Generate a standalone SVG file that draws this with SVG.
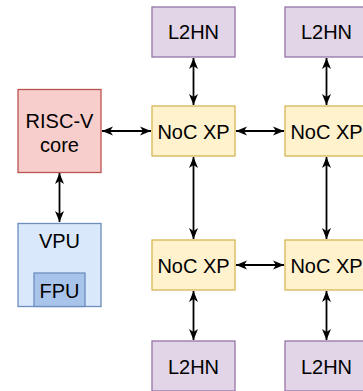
<svg xmlns="http://www.w3.org/2000/svg" width="363" height="391" viewBox="0 0 363 391">
<defs>
<marker id="ah" viewBox="0 0 11 10" refX="11" refY="5" markerWidth="11" markerHeight="10" markerUnits="userSpaceOnUse" orient="auto-start-reverse">
<path d="M11,5 L0,0.5 L3,5 L0,9.5 Z" fill="#000"/>
</marker>
<style>
text{font-family:"Liberation Sans",Arial,sans-serif;font-size:20px;fill:#000;text-anchor:middle}
.l2{fill:#e1d5e7;stroke:#9673a6;stroke-width:1.3}
.xp{fill:#fff2cc;stroke:#d6b656;stroke-width:1.3}
.cpu{fill:#f8cecc;stroke:#b85450;stroke-width:1.3}
.vpu{fill:#dae8fc;stroke:#6c8ebf;stroke-width:1.3}
.fpu{fill:#a9c4eb;stroke:#6c8ebf;stroke-width:1.3}
.c{stroke:#000;stroke-width:1.8;fill:none;marker-start:url(#ah);marker-end:url(#ah)}
</style>
</defs>
<g id="connectors">
<line class="c" x1="102" y1="131" x2="151" y2="131"/>
<line class="c" x1="236" y1="131" x2="284" y2="131"/>
<line class="c" x1="236" y1="265" x2="284" y2="265"/>
<line class="c" x1="193.5" y1="58" x2="193.5" y2="105"/>
<line class="c" x1="326.5" y1="58" x2="326.5" y2="105"/>
<line class="c" x1="193.5" y1="157" x2="193.5" y2="239"/>
<line class="c" x1="326.5" y1="157" x2="326.5" y2="239"/>
<line class="c" x1="193.5" y1="291" x2="193.5" y2="340"/>
<line class="c" x1="326.5" y1="291" x2="326.5" y2="340"/>
<line class="c" x1="59.5" y1="173" x2="59.5" y2="222"/>
</g>
<g id="l2hn-tl"><rect class="l2" x="152" y="7" width="83" height="50"/><text x="193.5" y="39.3">L2HN</text></g>
<g id="l2hn-tr"><rect class="l2" x="285" y="7" width="83" height="50"/><text x="326.5" y="39.3">L2HN</text></g>
<g id="xp-tl"><rect class="xp" x="152" y="106" width="83" height="50"/><text x="193.5" y="138.7">NoC XP</text></g>
<g id="xp-tr"><rect class="xp" x="285" y="106" width="83" height="50"/><text x="326.5" y="138.7">NoC XP</text></g>
<g id="xp-bl"><rect class="xp" x="152" y="240" width="83" height="50"/><text x="193.5" y="272.7">NoC XP</text></g>
<g id="xp-br"><rect class="xp" x="285" y="240" width="83" height="50"/><text x="326.5" y="272.7">NoC XP</text></g>
<g id="l2hn-bl"><rect class="l2" x="152" y="341" width="83" height="50"/><text x="193.5" y="373.5">L2HN</text></g>
<g id="l2hn-br"><rect class="l2" x="285" y="341" width="83" height="50"/><text x="326.5" y="373.5">L2HN</text></g>
<g id="riscv"><rect class="cpu" x="18" y="89.5" width="83" height="83"/><text x="59.5" y="127.5">RISC-V</text><text x="59.5" y="151.5">core</text></g>
<g id="vpu"><rect class="vpu" x="18" y="223.5" width="83" height="83"/><text x="59.5" y="248.3">VPU</text>
<g id="fpu"><rect class="fpu" x="34" y="273" width="51" height="33.5"/><text x="59.5" y="297.7">FPU</text></g></g>
</svg>
